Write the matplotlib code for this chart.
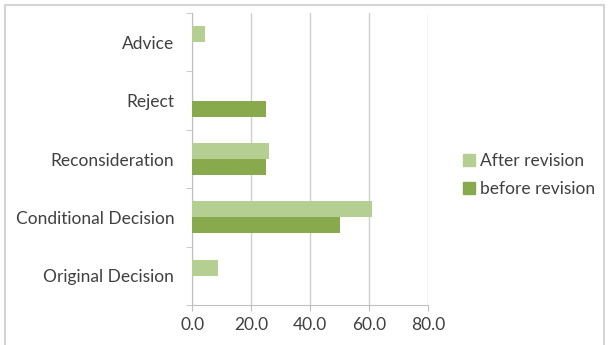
import matplotlib.pyplot as plt
from matplotlib.lines import Line2D
import numpy as np

# data
categories = ["Original Decision", "Conditional Decision", "Reconsideration", "Reject", "Advice"]
after_revision = [8.7, 60.9, 26.1, 0.0, 4.4]
before_revision = [0.0, 50.0, 25.0, 25.0, 0.0]
x_ticks = [0, 20, 40, 60, 80]

light_green = "#b5cf92"
dark_green = "#89aa4c"
grid_gray = "#d0d0d0"
text_color = "#404040"

plt.rcParams["font.family"] = ["Lato", "DejaVu Sans"]

fig = plt.figure(figsize=(6.13, 3.45), dpi=100)
ax = fig.add_axes([192.3 / 613, 1 - 305 / 345, (428.3 - 192.3) / 613, (305 - 13) / 345])

y = np.arange(len(categories))
h = 0.273
ax.barh(y + h / 2, after_revision, height=h, color=light_green, label="After revision", zorder=3)
ax.barh(y - h / 2, before_revision, height=h, color=dark_green, label="before revision", zorder=3)

ax.set_xlim(0, 80)
ax.set_ylim(-0.5, len(categories) - 0.5)
ax.set_xticks(x_ticks)
ax.set_xticklabels([f"{v:.1f}" for v in x_ticks])
ax.set_yticks(y)
ax.set_yticklabels(categories)

# category boundary ticks on the left axis
ax.set_yticks(np.arange(-0.5, len(categories)), minor=True)
ax.tick_params(axis="y", which="major", length=0, pad=13, labelsize=12.5, labelcolor=text_color)
ax.tick_params(axis="y", which="minor", length=4, color="#bfbfbf", direction="out")
ax.tick_params(axis="x", which="major", length=4, color="#bfbfbf", pad=5, labelsize=12.5, labelcolor=text_color)

ax.grid(axis="x", color=grid_gray, linewidth=1, zorder=0)
for side in ["top", "right"]:
    ax.spines[side].set_visible(False)
for side in ["left", "bottom"]:
    ax.spines[side].set_color("#bfbfbf")

# legend
handles = [
    Line2D([], [], marker="s", linestyle="", markersize=8, color=light_green),
    Line2D([], [], marker="s", linestyle="", markersize=8, color=dark_green),
]
fig.legend(handles, ["After revision", "before revision"], loc="center left",
           bbox_to_anchor=(446 / 613, 1 - 175 / 345), frameon=False,
           fontsize=12.5, labelcolor=text_color, handlelength=0.8,
           handletextpad=0.25, labelspacing=0.7)

# outer chart border
border_kw = dict(color="#d4d4d4", linewidth=1.5, transform=fig.transFigure)
fig.add_artist(Line2D([4.5 / 613, 603.5 / 613], [1 - 4.5 / 345, 1 - 4.5 / 345], **border_kw))
fig.add_artist(Line2D([4.5 / 613, 4.5 / 613], [0, 1 - 4.5 / 345], **border_kw))
fig.add_artist(Line2D([603.5 / 613, 603.5 / 613], [0, 1 - 4.5 / 345], **border_kw))

fig.savefig("out.png", dpi=100)
